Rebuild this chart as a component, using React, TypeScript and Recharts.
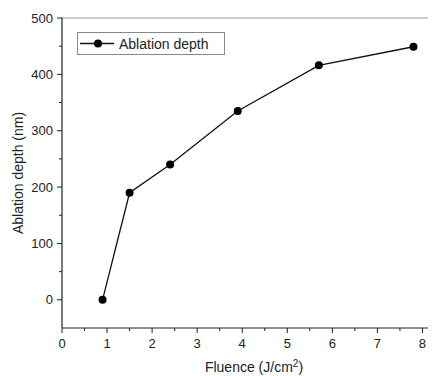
import { LineChart, Line, XAxis, YAxis, ReferenceLine, Label } from "recharts";

const fluence = [0.9, 1.5, 2.4, 3.9, 5.7, 7.8];
const depth = [0, 190, 240, 335, 416, 449];
const xTicks = [0, 0.5, 1, 1.5, 2, 2.5, 3, 3.5, 4, 4.5, 5, 5.5, 6, 6.5, 7, 7.5, 8];
const yTicks = [0, 50, 100, 150, 200, 250, 300, 350, 400, 450, 500];

const data = fluence.map((f, i) => ({ fluence: f, depth: depth[i] }));

const FONT = "'Liberation Sans', Arial, sans-serif";
const AXIS = "#222";

// minor/major ticks drawn outward from the axis line
const XTick = (props: any) => {
    const { x, y, payload } = props;
    const major = Number.isInteger(payload.value);
    return (
        <g>
            <line x1={x} x2={x} y1={y} y2={y + (major ? 5 : 3)} stroke={AXIS} strokeWidth={1} />
            {major && (
                <text x={x} y={y + 20} textAnchor="middle" fontSize={13} fill="#222" fontFamily={FONT}>
                    {payload.value}
                </text>
            )}
        </g>
    );
};

const YTick = (props: any) => {
    const { x, y, payload } = props;
    const major = payload.value % 100 === 0;
    return (
        <g>
            <line x1={x} x2={x - (major ? 5 : 3)} y1={y} y2={y} stroke={AXIS} strokeWidth={1} />
            {major && (
                <text x={x - 9} y={y + 4.5} textAnchor="end" fontSize={13} fill="#222" fontFamily={FONT}>
                    {payload.value}
                </text>
            )}
        </g>
    );
};

const XTitle = (props: any) => {
    const { viewBox } = props;
    const cx = viewBox.x + viewBox.width / 2 + 5;
    return (
        <text x={cx} y={viewBox.y + 44} textAnchor="middle" fontSize={14} fill="#222" fontFamily={FONT}>
            Fluence (J/cm
            <tspan dy={-5} fontSize={10}>2</tspan>
            <tspan dy={5}>)</tspan>
        </text>
    );
};

const YTitle = (props: any) => {
    const { viewBox } = props;
    const cx = viewBox.x + 23;
    const cy = viewBox.y + viewBox.height / 2;
    return (
        <text
            x={cx}
            y={cy}
            transform={`rotate(-90 ${cx} ${cy})`}
            textAnchor="middle"
            fontSize={14}
            fill="#222"
            fontFamily={FONT}
        >
            Ablation depth (nm)
        </text>
    );
};

export default function App() {
    return (
        <div style={{ position: "relative", margin: "-8px 0 0 -8px", width: 436, height: 376, background: "#fff" }}>
            <LineChart width={436} height={376} data={data} margin={{ top: 18, right: 0, bottom: 0, left: 0 }}>
                <XAxis
                    dataKey="fluence"
                    type="number"
                    domain={[0, 8.3]}
                    ticks={xTicks}
                    interval={0}
                    height={48}
                    tickSize={0}
                    tickMargin={0}
                    tick={<XTick />}
                    axisLine={{ stroke: AXIS, strokeWidth: 1.2 }}
                >
                    <Label content={<XTitle />} />
                </XAxis>
                <YAxis
                    type="number"
                    domain={[-50, 500]}
                    ticks={yTicks}
                    interval={0}
                    width={62}
                    tickSize={0}
                    tickMargin={0}
                    tick={<YTick />}
                    axisLine={{ stroke: AXIS, strokeWidth: 1.2 }}
                    allowDataOverflow
                >
                    <Label content={<YTitle />} />
                </YAxis>
                <ReferenceLine y={500} stroke="#999" strokeWidth={1.2} />
                <Line
                    dataKey="depth"
                    stroke="#111"
                    strokeWidth={1.3}
                    dot={{ r: 4, fill: "#000", stroke: "#000", strokeWidth: 0 }}
                    isAnimationActive={false}
                />
            </LineChart>
            <div
                style={{
                    position: "absolute",
                    left: 77,
                    top: 32,
                    width: 146,
                    height: 21,
                    border: "1px solid #888",
                    background: "#fff",
                    display: "flex",
                    alignItems: "center",
                    fontFamily: FONT,
                    fontSize: 14,
                    color: "#222",
                }}
            >
                <svg width={40} height={21} style={{ marginLeft: 1 }}>
                    <line x1={1} x2={35} y1={10.5} y2={10.5} stroke="#111" strokeWidth={1.3} />
                    <circle cx={19} cy={10.5} r={4} fill="#000" />
                </svg>
                <span>Ablation depth</span>
            </div>
        </div>
    );
}
